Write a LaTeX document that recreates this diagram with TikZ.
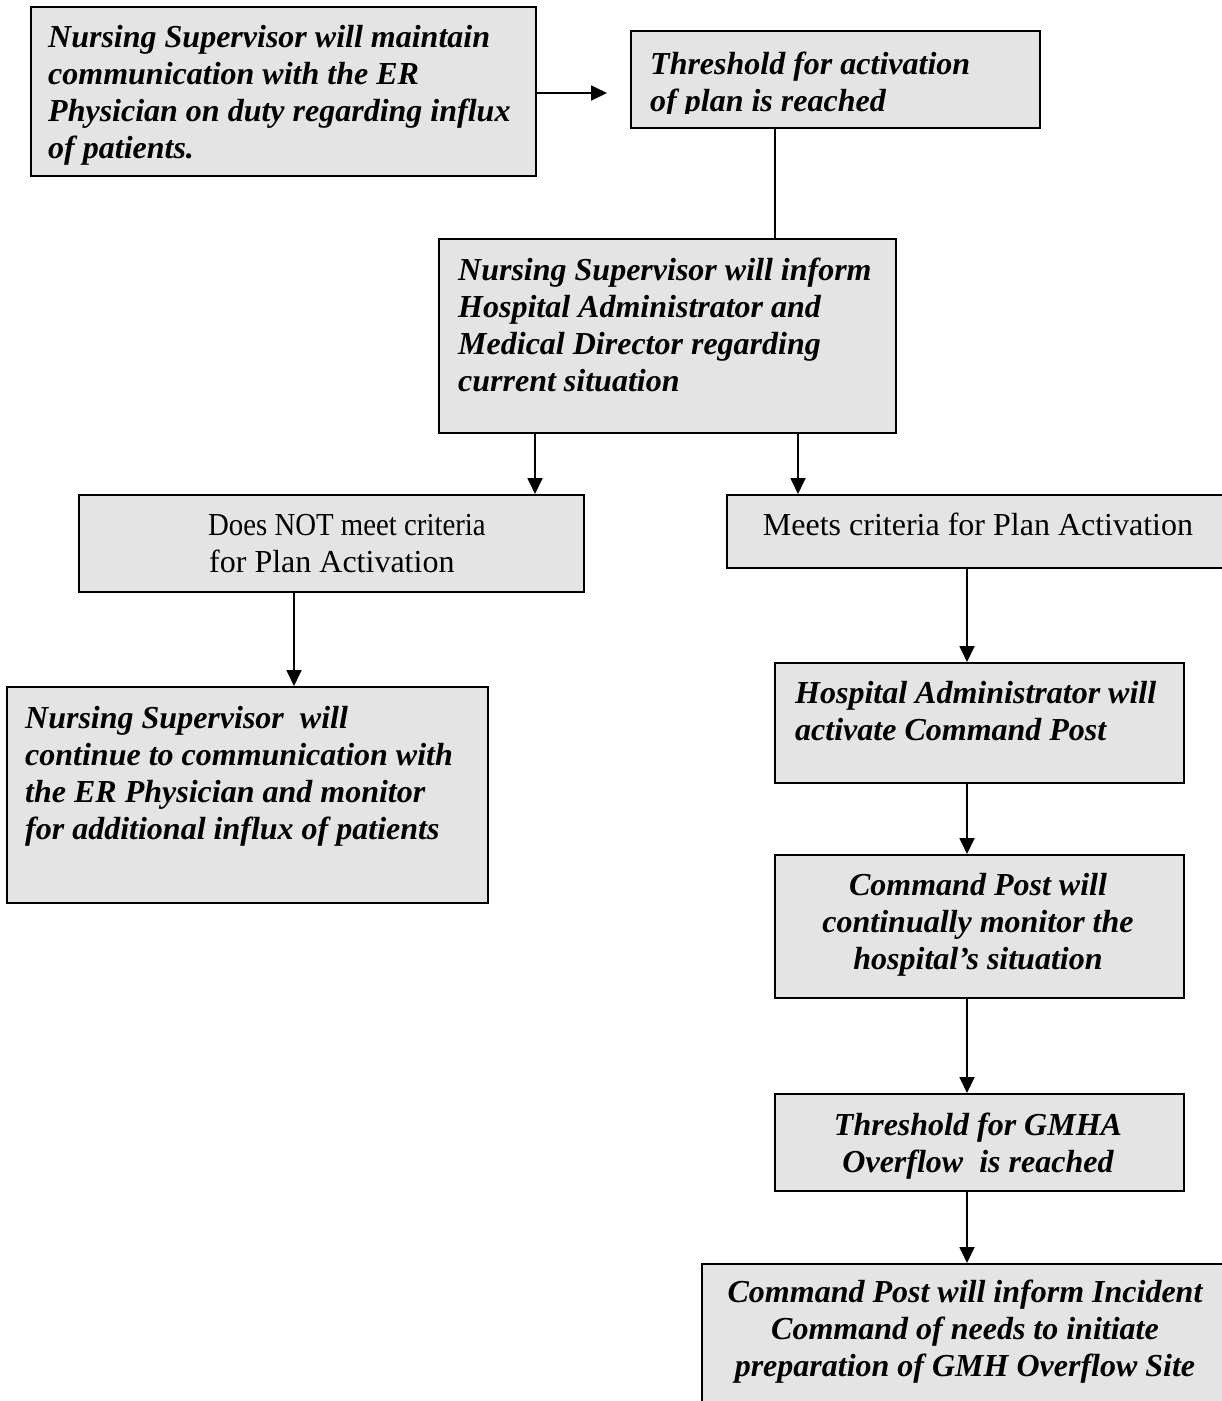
\documentclass[tikz,border=0pt]{standalone}
\usepackage{fontspec}
\setmainfont{Liberation Serif}
\usetikzlibrary{arrows.meta,calc}
\definecolor{boxgray}{HTML}{E4E4E4}
\begin{document}
\begin{tikzpicture}[x=1pt,y=-1pt,
  box/.style={draw=black,line width=1.8pt,fill=boxgray,rectangle,inner sep=0pt,anchor=north west},
  bitext/.style={font=\fontsize{32}{37}\selectfont\bfseries\itshape,inner sep=0pt,anchor=north west,align=left},
  bictext/.style={bitext,anchor=north,align=center},
  rmtext/.style={font=\fontsize{32}{37}\selectfont,inner sep=0pt,anchor=north west,align=left},
  conn/.style={line width=1.8pt,-{Triangle[length=16pt,width=15pt]}},
  plainline/.style={line width=1.8pt}]
\useasboundingbox (0,0) rectangle (1222,1401);
\clip (0,0) rectangle (1222,1401);

% boxes
\node[box,minimum width=505pt,minimum height=169pt] (a) at (30,6) {};
\node[box,minimum width=409pt,minimum height=97pt] (b) at (630,30) {};
\node[box,minimum width=457pt,minimum height=194pt] (c) at (438,238) {};
\node[box,minimum width=505pt,minimum height=97pt] (d) at (78,494) {};
\node[box,minimum width=510pt,minimum height=73pt] (e) at (726,494) {};
\node[box,minimum width=481pt,minimum height=216pt] (f) at (6,686) {};
\node[box,minimum width=409pt,minimum height=120pt] (g) at (774,662) {};
\node[box,minimum width=409pt,minimum height=143pt] (h) at (774,854) {};
\node[box,minimum width=409pt,minimum height=97pt] (i) at (774,1093) {};
\node[box,minimum width=540pt,minimum height=160pt] (j) at (701,1263) {};

% texts
\node[bitext] (ta) at (48,21.1) {\strut Nursing Supervisor will maintain\\communication with the ER\\Physician on duty regarding influx\\of patients.};
\begin{scope}
\clip (630,30) rectangle (1039,113.5);
\node[bitext] (tb) at (650,48.1) {\strut Threshold for activation\\of plan is reached};
\end{scope}
\node[bitext] (tc) at (458,254.1) {\strut Nursing Supervisor will inform\\Hospital Administrator and\\Medical Director regarding\\current situation};
\node[rmtext] (td) at (208,509.1) {\strut\scalebox{0.9}[1]{Does NOT meet criteria}\\\hspace*{1pt}for Plan Activation};
\node[rmtext,anchor=north] (te) at (978,509.1) {\strut Meets criteria for Plan Activation};
\node[bitext] (tf) at (25,702.1) {\strut Nursing Supervisor~ will\\continue to communication with\\the ER Physician and monitor\\for additional influx of patients};
\node[bitext] (tg) at (795,677.1) {\strut Hospital Administrator will\\activate Command Post};
\node[bictext] (th) at (978,869.1) {\strut Command Post will\\continually monitor the\\hospital’s situation};
\node[bictext] (ti) at (978,1109.1) {\strut Threshold for GMHA\\Overflow~ is reached};
\node[bictext] (tj) at (965,1276.1) {\strut Command Post will inform Incident\\Command of needs to initiate\\preparation of GMH Overflow Site};

% connector positions
\coordinate (yab) at (0,93);
\coordinate (xbc) at (775,0);
\coordinate (xcd) at (535,0);
\coordinate (xce) at (798,0);
\coordinate (xdf) at (294,0);
\coordinate (xr) at (967,0);

% connectors
\draw[conn,shorten >=23pt] (a.east |- yab) -- (b.west |- yab);
\draw[plainline] (b.south -| xbc) -- (c.north -| xbc);
\draw[conn] (c.south -| xcd) -- (d.north -| xcd);
\draw[conn] (c.south -| xce) -- (e.north -| xce);
\draw[conn] (d.south -| xdf) -- (f.north -| xdf);
\draw[conn] (e.south -| xr) -- (g.north -| xr);
\draw[conn] (g.south -| xr) -- (h.north -| xr);
\draw[conn] (h.south -| xr) -- (i.north -| xr);
\draw[conn] (i.south -| xr) -- (j.north -| xr);
\end{tikzpicture}
\end{document}
